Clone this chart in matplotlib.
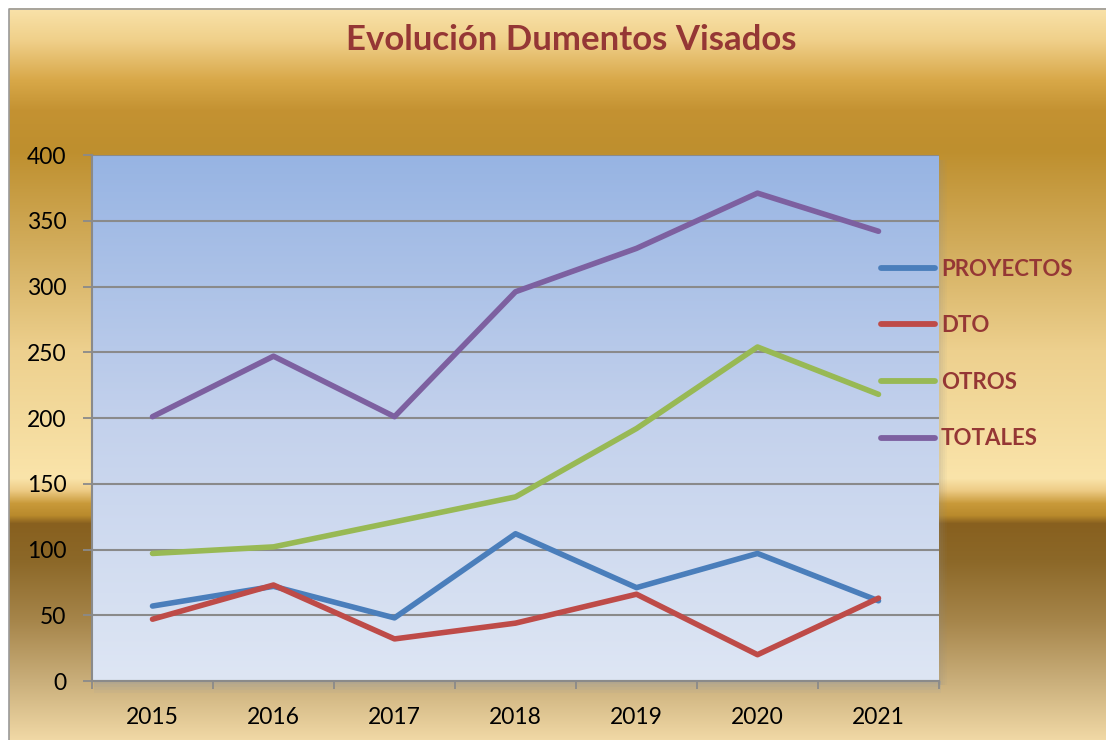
import numpy as np
import matplotlib
matplotlib.use("Agg")
import matplotlib.pyplot as plt
from matplotlib.colors import LinearSegmentedColormap, to_rgb

plt.rcParams.update({
    "font.family": ["Lato", "DejaVu Sans"],
    "font.size": 16,
})

# ── data ───────────────────────────────────────────────────────────────────────
YEARS     = ["2015", "2016", "2017", "2018", "2019", "2020", "2021"]
PROYECTOS = [57, 72, 48, 112, 71, 97, 61]
DTO       = [47, 73, 32, 44, 66, 20, 63]
OTROS     = [97, 102, 121, 140, 192, 254, 218]
TOTALES   = [201, 247, 201, 296, 329, 371, 342]
Y_TICKS   = [0, 50, 100, 150, 200, 250, 300, 350, 400]

SERIES = [
    ("PROYECTOS", PROYECTOS, "#4A7EBB"),
    ("DTO",       DTO,       "#BE4B48"),
    ("OTROS",     OTROS,     "#98B954"),
    ("TOTALES",   TOTALES,   "#7D60A0"),
]
TITLE_RED = "#953735"

W, H = 1106, 740
fig = plt.figure(figsize=(W / 100, H / 100), dpi=100)
fig.patch.set_facecolor("white")

# ── gold background frame ─────────────────────────────────────────────────────
bg = fig.add_axes([0, 0, 1, 1], zorder=-10)
bg.set_xlim(0, W)
bg.set_ylim(H, 0)
bg.axis("off")
stops = [
    (8,   "#F9E2AA"), (40,  "#F0D08A"), (80,  "#D8A848"), (110, "#C49232"),
    (150, "#BE8F2E"), (250, "#D3AE5E"), (350, "#EDD08E"), (478, "#FAE4AA"),
    (490, "#EDCB85"), (503, "#C99A3A"), (515, "#B98A2C"), (523, "#88601F"),
    (560, "#8C6828"), (620, "#A6854A"), (680, "#C9AE7A"), (740, "#F1D9A6"),
]
ys = np.arange(8, H)
cols = np.array([to_rgb(c) for _, c in stops])
pos = np.array([p for p, _ in stops])
grad = np.stack([np.interp(ys, pos, cols[:, k]) for k in range(3)], axis=1)
bg.imshow(grad[:, None, :], extent=(9, W, H, 8), aspect="auto", interpolation="bilinear")
bg.plot([8.5, 8.5, W], [H, 8.5, 8.5], color="#9A9A9A", lw=1.2)

# plot-area shadow
for i, a in enumerate([0.30, 0.22, 0.14, 0.07]):
    bg.add_patch(plt.Rectangle((94, 681 + i * 3), 847, 3, color="#7F95B8",
                               alpha=a, lw=0, zorder=2))
    bg.add_patch(plt.Rectangle((939 + i * 2, 160), 2, 525, color="#8C8C8C",
                               alpha=a * 0.8, lw=0, zorder=2))

fig.text(571 / W, 1 - 40 / H, "Evolución Dumentos Visados", ha="center", va="center",
         fontsize=25, fontweight="bold", color=TITLE_RED)

# ── plot area ──────────────────────────────────────────────────────────────────
ax = fig.add_axes([92 / W, 1 - 681 / H, (939 - 92) / W, (681 - 155) / H])
blue = LinearSegmentedColormap.from_list("pa", ["#DEE6F4", "#C3D1EC", "#97B4E3"])
ax.imshow(np.linspace(0, 1, 256)[:, None], cmap=blue, origin="lower",
          extent=(0, 1, 0, 1), transform=ax.transAxes, aspect="auto", zorder=0)

x = np.arange(len(YEARS))
for name, vals, c in SERIES:
    ax.plot(x, vals, color=c, lw=4.0, solid_capstyle="round",
            solid_joinstyle="round", label=name, zorder=3)

ax.set_xlim(-0.5, len(YEARS) - 0.5)
ax.set_ylim(0, 400)
ax.set_yticks(Y_TICKS)
ax.yaxis.grid(True, color="#8A8A8A", lw=1.5)
ax.set_axisbelow(False)
for gl in ax.get_ygridlines():
    gl.set_zorder(1)
ax.set_xticks(x)
ax.set_xticklabels(YEARS)
ax.set_xticks(np.arange(-0.5, len(YEARS)), minor=True)
ax.tick_params(axis="x", which="major", length=0, pad=19, labelsize=16.5)
ax.tick_params(axis="x", which="minor", length=6, width=1.3, color="#8A8A8A", direction="out")
ax.tick_params(axis="y", length=6.5, width=1.3, color="#8A8A8A", pad=12, labelsize=16.5)
for s in ["top", "right"]:
    ax.spines[s].set_visible(False)
for s in ["left", "bottom"]:
    ax.spines[s].set_color("#8A8A8A")
    ax.spines[s].set_linewidth(1.5)

leg = fig.legend(loc="center left", bbox_to_anchor=(881 / W, 1 - 354 / H),
                 frameon=False, fontsize=16, handlelength=2.45,
                 handletextpad=0.25, labelspacing=1.6, borderpad=0,
                 borderaxespad=0)
for t in leg.get_texts():
    t.set_color(TITLE_RED)
    t.set_fontweight("bold")
for h in leg.legend_handles:
    h.set_linewidth(4.2)

fig.savefig("out.png", dpi=100)
